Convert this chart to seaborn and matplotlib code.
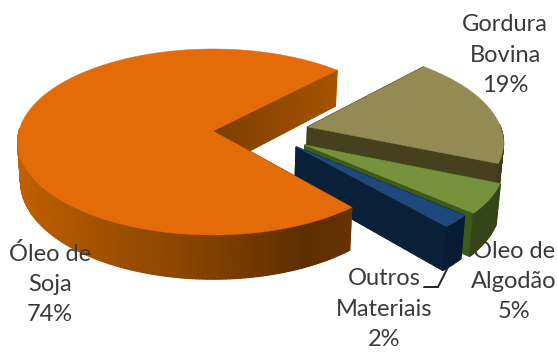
import numpy as np
import matplotlib
matplotlib.use("Agg")
import matplotlib.pyplot as plt
from matplotlib.colors import to_rgb
import seaborn as sns

# ---- data ----
categories = ["Óleo de\nSoja", "Outros\nMateriais", "Óleo de\nAlgodão", "Gordura\nBovina"]
values = [73.5, 2.2, 5.2, 19.1]
percent_labels = ["74%", "2%", "5%", "19%"]

# ---- styles ----
top_colors = ["#e36c09", "#1f497d", "#76923c", "#948a54"]
wall_start = ["#7c3e00", "#0a2038", "#3c5a1c", "#46401f"]
wall_end = ["#a85400", "#0a2038", "#3c5a1c", "#46401f"]
outer_stops = [
    [(180, "#cc6400"), (225, "#b05800"), (260, "#8c4600"), (295, "#5c2e00"), (315, "#6a3500")],
    [(0, "#071c33"), (360, "#071c33")],
    [(0, "#344618"), (360, "#344618")],
    [(0, "#3f3a1d"), (360, "#3f3a1d")],
]
draw_order = [3, 2, 1, 0]
offsets = [(0.0, 0.0), (0.42, -0.17), (0.465, -0.15), (0.49, 0.045)]
START = 46
CX, CY, A, B, K, DEPTH, SHRINK = 213, 131, 194, 91.7, 0.118, 39, 0.985
text_color = "#3a3a3a"

sns.set_theme(style="white")
plt.rcParams["font.family"] = ["Lato", "DejaVu Sans"]
fig, ax = plt.subplots(figsize=(5.57, 3.52), dpi=100)
ax.set_position([0, 0, 1, 1])
ax.set_xlim(0, 557)
ax.set_ylim(352, 0)
ax.axis("off")


def project(u, v, bottom=False):
    u, v = np.asarray(u, float), np.asarray(v, float)
    w = 1 + K * v
    x = CX + A * u / w
    y = CY - B * v / w
    if bottom:
        x = CX + (x - CX) * SHRINK
        y = y + DEPTH / w
    return x, y


def lerp(c1, c2, t):
    a, b = np.array(to_rgb(c1)), np.array(to_rgb(c2))
    return tuple(a + (b - a) * t)


def stop_color(stops, ang):
    ang = ang % 360
    angs = [s[0] for s in stops]
    rgb = [to_rgb(s[1]) for s in stops]
    return tuple(np.interp(ang, angs, [c[j] for c in rgb]) for j in range(3))


def quad(u1, v1, u2, v2, color, z):
    x1, y1 = project(u1, v1)
    x2, y2 = project(u2, v2)
    x3, y3 = project(u2, v2, True)
    x4, y4 = project(u1, v1, True)
    ax.fill([x1, x2, x3, x4], [y1, y2, y3, y4], facecolor=color, edgecolor=color,
            lw=0.9, zorder=z)


edges = START + np.cumsum([0] + values) * 3.6
for rank, i in enumerate(draw_order):
    z = 5 + rank
    a0, a1 = edges[i], edges[i + 1]
    u0, v0 = offsets[i]
    # radial walls
    for ang in (a0, a1):
        rad = np.radians(ang)
        ts = np.linspace(0, 1, 26)
        for k in range(len(ts) - 1):
            c = lerp(wall_start[i], wall_end[i], ts[k])
            quad(u0 + ts[k] * np.cos(rad), v0 + ts[k] * np.sin(rad),
                 u0 + ts[k + 1] * np.cos(rad), v0 + ts[k + 1] * np.sin(rad), c, z)
    # outer wall, only where it faces the viewer
    angs = np.linspace(a0, a1, max(int(a1 - a0) + 1, 6))
    for k in range(len(angs) - 1):
        r0, r1 = np.radians(angs[k]), np.radians(angs[k + 1])
        if np.sin(r0) > 0.02 and np.sin(r1) > 0.02:
            continue
        c = stop_color(outer_stops[i], angs[k])
        quad(u0 + np.cos(r0), v0 + np.sin(r0), u0 + np.cos(r1), v0 + np.sin(r1), c, z)
    # top face
    t = np.radians(np.linspace(a0, a1, 200))
    us = np.r_[u0, u0 + np.cos(t)]
    vs = np.r_[v0, v0 + np.sin(t)]
    x, y = project(us, vs)
    ax.fill(x, y, facecolor=top_colors[i], edgecolor=top_colors[i], lw=0.3, zorder=z + 0.5)

# labels
FS = 17.0
label_pos = [(50, 284), (384, 309), (514, 281), (505, 55)]
label_z = [20, 20, 2, 20]
for cat, pct, (lx, ly), lz in zip(categories, percent_labels, label_pos, label_z):
    ax.text(lx, ly, f"{cat}\n{pct}", ha="center", va="center", fontsize=FS,
            color=text_color, linespacing=1.55, zorder=lz)

# leader line
ax.plot([448, 438, 424], [267, 287, 287], color="#222222", lw=1.4, zorder=21,
        solid_joinstyle="miter")

fig.savefig("out.png", dpi=100, facecolor="white")
